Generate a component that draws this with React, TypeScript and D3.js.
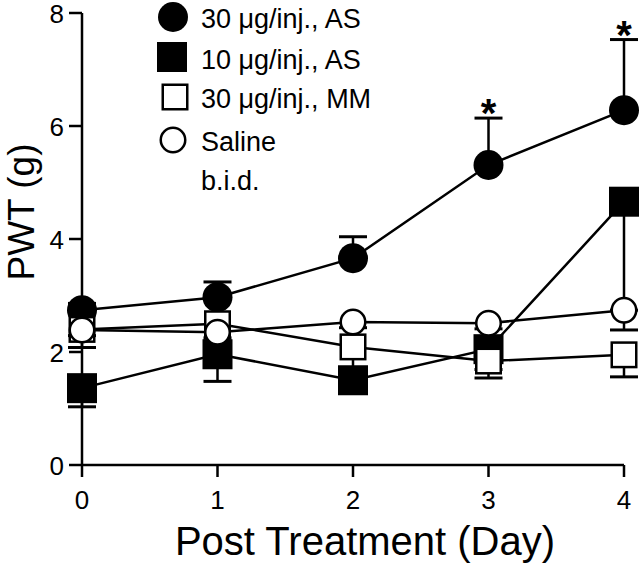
import React from "react";
import * as d3 from "d3";

const days = [0, 1, 2, 3, 4];
const xTicks = [0, 1, 2, 3, 4];
const yTicks = [0, 2, 4, 6, 8];

const as30 = [2.74, 2.97, 3.66, 5.31, 6.28];
const as30ErrUp = [0.12, 0.27, 0.38, 0.83, 1.25];
const as10 = [1.36, 1.96, 1.5, 2.05, 4.66];
const as10ErrDown = [0.33, 0.48, 0.15, 0.51, 1.92];
const mm30 = [2.4, 2.5, 2.09, 1.84, 1.95];
const mm30ErrDown = [0.32, 0.3, 0.4, 0.15, 0.39];
const saline = [2.39, 2.35, 2.53, 2.51, 2.74];
const salineErrDown = [0.1, 0.1, 0.1, 0.1, 0.35];

const starDays = [3, 4];
const legendLabels = ["30 \u03bcg/inj., AS", "10 \u03bcg/inj., AS", "30 \u03bcg/inj., MM", "Saline", "b.i.d."];

const FONT = "'Liberation Sans', Arial, Helvetica, sans-serif";

type Series = { vals: number[]; err: number[]; dir: number; shape: "circle" | "square"; fill: string; size: number };

export default function App() {
  const W = 640, H = 567;
  const x = d3.scaleLinear().domain([0, 4]).range([82, 624]);
  const y = d3.scaleLinear().domain([0, 8]).range([465, 13]);
  const line = d3.line<number>().x((_, i) => x(days[i])).y((d) => y(d));

  const series: Series[] = [
    { vals: as30, err: as30ErrUp, dir: 1, shape: "circle", fill: "#000", size: 15 },
    { vals: as10, err: as10ErrDown, dir: -1, shape: "square", fill: "#000", size: 30 },
    { vals: mm30, err: mm30ErrDown, dir: -1, shape: "square", fill: "#fff", size: 27 },
    { vals: saline, err: salineErrDown, dir: -1, shape: "circle", fill: "#fff", size: 13.5 },
  ];

  const marker = (s: Series, cx: number, cy: number, key: string) =>
    s.shape === "circle" ? (
      <circle key={key} cx={cx} cy={cy} r={s.fill === "#000" ? s.size : s.size - 1.25} fill={s.fill} stroke="#000" strokeWidth={s.fill === "#000" ? 0 : 2.5} />
    ) : s.fill === "#000" ? (
      <rect key={key} x={cx - s.size / 2} y={cy - s.size / 2} width={s.size} height={s.size} fill="#000" />
    ) : (
      <rect key={key} x={cx - s.size / 2 + 1.25} y={cy - s.size / 2 + 1.25} width={s.size - 2.5} height={s.size - 2.5} fill="#fff" stroke="#000" strokeWidth={2.5} />
    );

  const legendY = [17, 57, 97, 140];
  const legendX = [173, 172, 175, 173];
  const legendBase = [28, 69, 108, 151, 190];

  return (
    <svg width={W} height={H} style={{ position: "absolute", left: 0, top: 0, background: "#fff" }} fontFamily={FONT}>
      <rect width={W} height={H} fill="#fff" />
      {/* axes */}
      <line x1={x(0)} x2={x(0)} y1={y(8)} y2={y(0)} stroke="#000" strokeWidth={2.5} />
      <line x1={x(0)} x2={x(4)} y1={y(0)} y2={y(0)} stroke="#000" strokeWidth={2.5} />
      {yTicks.map((t) => (
        <g key={"yt" + t}>
          <line x1={x(0) - 13} x2={x(0)} y1={y(t)} y2={y(t)} stroke="#000" strokeWidth={2.5} />
          <text x={x(0) - 18} y={y(t) + 9.5} textAnchor="end" fontSize={26}>{t}</text>
        </g>
      ))}
      {xTicks.map((t) => (
        <g key={"xt" + t}>
          <line x1={x(t)} x2={x(t)} y1={y(0)} y2={y(0) + 12} stroke="#000" strokeWidth={2.5} />
          <text x={x(t)} y={509} textAnchor="middle" fontSize={26}>{t}</text>
        </g>
      ))}
      <text x={365} y={555} textAnchor="middle" fontSize={40}>Post Treatment (Day)</text>
      <text transform="translate(34,212) rotate(-90)" textAnchor="middle" fontSize={37}>PWT (g)</text>

      {/* lines */}
      {series.map((s, i) => (
        <path key={"l" + i} d={line(s.vals) || ""} fill="none" stroke="#000" strokeWidth={2.5} />
      ))}
      {/* error bars */}
      {series.map((s, i) =>
        s.vals.map((v, j) => {
          const e = v + s.dir * s.err[j];
          return (
            <g key={"e" + i + "-" + j}>
              <line x1={x(days[j])} x2={x(days[j])} y1={y(v)} y2={y(e)} stroke="#000" strokeWidth={2.5} />
              <line x1={x(days[j]) - 14} x2={x(days[j]) + 14} y1={y(e)} y2={y(e)} stroke="#000" strokeWidth={3} />
            </g>
          );
        })
      )}
      {/* markers */}
      {series.map((s, i) => s.vals.map((v, j) => marker(s, x(days[j]), y(v), "m" + i + "-" + j)))}
      {/* significance */}
      {starDays.map((d) => (
        <text key={"s" + d} x={x(d)} y={y(as30[d] + as30ErrUp[d]) + 9} textAnchor="middle" fontSize={40} fontWeight="bold">*</text>
      ))}
      {/* legend */}
      {series.map((s, i) => marker(s, legendX[i], legendY[i], "lg" + i))}
      {legendLabels.map((l, i) => (
        <text key={"lt" + i} x={201} y={legendBase[i]} fontSize={27}>{l}</text>
      ))}
    </svg>
  );
}
